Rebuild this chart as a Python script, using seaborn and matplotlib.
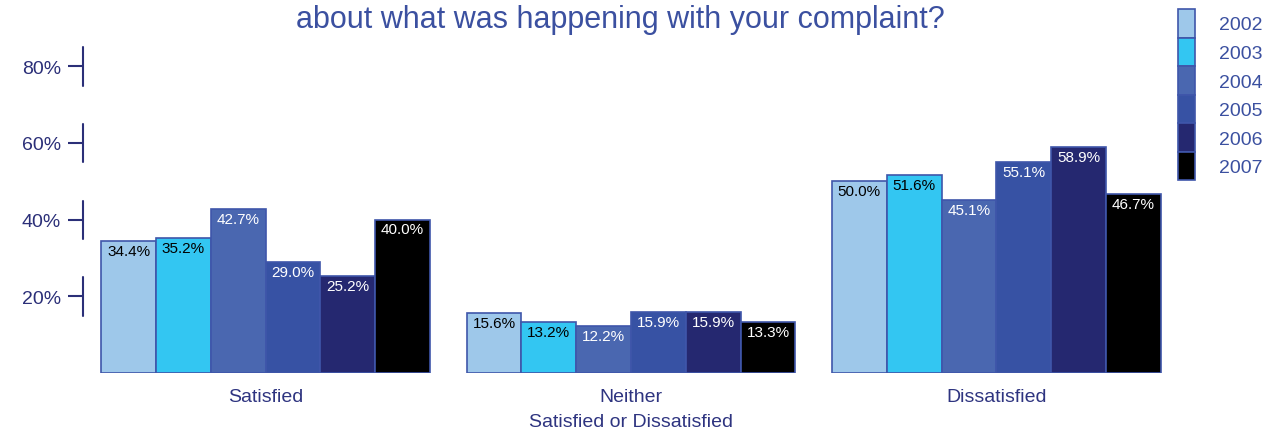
import matplotlib
matplotlib.use("Agg")
import matplotlib.pyplot as plt
import seaborn as sns
import pandas as pd

categories = ["Satisfied", "Neither\nSatisfied or Dissatisfied", "Dissatisfied"]
years = ["2002", "2003", "2004", "2005", "2006", "2007"]
values = {
    "2002": [34.4, 15.6, 50.0],
    "2003": [35.2, 13.2, 51.6],
    "2004": [42.7, 12.2, 45.1],
    "2005": [29.0, 15.9, 55.1],
    "2006": [25.2, 15.9, 58.9],
    "2007": [40.0, 13.3, 46.7],
}
colors = ["#9ec8ea", "#33c6f2", "#4a67b0", "#3752a4", "#252870", "#000000"]
label_colors = ["black", "black", "white", "white", "white", "white"]
yticks = [20, 40, 60, 80]
title = "about what was happening with your complaint?"

rows = []
for y in years:
    for c, v in zip(categories, values[y]):
        rows.append({"category": c, "year": y, "value": v})
df = pd.DataFrame(rows)

sns.set_theme(style="white")
plt.rcParams["font.family"] = ["Liberation Sans", "DejaVu Sans"]

fig = plt.figure(figsize=(12.77, 4.35), dpi=100)
ax = fig.add_axes([83 / 1277, 61 / 435, (1179 - 83) / 1277, (374 - 29) / 435])

sns.barplot(data=df, x="category", y="value", hue="year", order=categories,
            hue_order=years, palette=colors, saturation=1, width=0.9, gap=0,
            edgecolor="#3f56aa", linewidth=1.2, ax=ax)

ax.set_xlim(-0.5, 2.5)
ax.set_ylim(0, 90)
ax.set_xlabel("")
ax.set_ylabel("")
for s in ax.spines.values():
    s.set_visible(False)

navy = "#2b2f78"
ax.set_yticks(yticks)
ax.set_yticklabels([f"{t}%" for t in yticks], fontsize=14, color=navy)
ax.tick_params(axis="y", length=11, width=1.5, color=navy, pad=5, left=True)
ax.tick_params(axis="x", length=0, pad=11, labelsize=14, labelcolor="#2e3480")
for lbl in ax.get_xticklabels():
    lbl.set_linespacing(1.6)
for t in yticks:
    ax.plot([-0.5, -0.5], [t - 5, t + 5], color=navy, lw=1.5, clip_on=False)

for cont, lc in zip(ax.containers, label_colors):
    for p in cont.patches:
        h = p.get_height()
        ax.annotate(f"{h:.1f}%", (p.get_x() + p.get_width() / 2, h),
                    xytext=(0, -2), textcoords="offset points",
                    ha="center", va="top", fontsize=11, color=lc)

handles, labels = ax.get_legend_handles_labels()
ax.get_legend().remove()
fig.legend(handles, labels, loc="upper left", bbox_to_anchor=(1178 / 1277, 1 - 10 / 435),
           frameon=False, fontsize=14, labelspacing=0, handleheight=1.88,
           handlelength=0.85, handletextpad=1.25, borderpad=0, borderaxespad=0,
           labelcolor="#3b50a0")

fig.text(620 / 1277, 1 - 28 / 435, title, ha="center", va="baseline",
         fontsize=22, color="#3b50a0")

fig.savefig("out.png", dpi=100)
